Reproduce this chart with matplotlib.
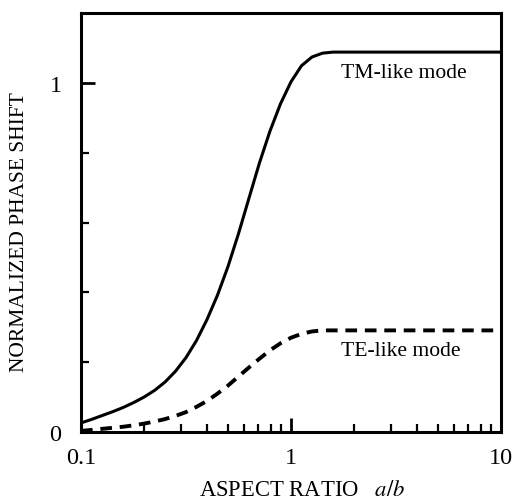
import matplotlib
matplotlib.use("Agg")
import matplotlib.pyplot as plt
from matplotlib.ticker import FixedLocator, NullFormatter, FixedFormatter

plt.rcParams['font.family'] = ['Liberation Serif', 'DejaVu Serif']
plt.rcParams['mathtext.fontset'] = 'stix'

# TM-like mode (solid)
tm_x = [0.1, 0.1122, 0.1259, 0.1413, 0.1585, 0.1778, 0.1995, 0.2239, 0.2512, 0.2818,
        0.3162, 0.3548, 0.3981, 0.4467, 0.5012, 0.5623, 0.6310, 0.7079, 0.7943,
        0.8913, 1.0, 1.122, 1.259, 1.413, 1.585, 1.778, 10.0]
tm_y = [0.026, 0.036, 0.047, 0.058, 0.070, 0.084, 0.100, 0.119, 0.143, 0.174,
        0.213, 0.262, 0.322, 0.392, 0.474, 0.568, 0.670, 0.771, 0.862,
        0.940, 1.003, 1.049, 1.074, 1.085, 1.088, 1.088, 1.088]

# TE-like mode (dashed)
te_x = [0.1, 0.1122, 0.1259, 0.1413, 0.1585, 0.1778, 0.1995, 0.2239, 0.2512, 0.2818,
        0.3162, 0.3548, 0.3981, 0.4467, 0.5012, 0.5623, 0.6310, 0.7079, 0.7943,
        0.8913, 1.0, 1.122, 1.259, 1.413, 1.585, 10.0]
te_y = [0.003, 0.006, 0.009, 0.012, 0.015, 0.019, 0.024, 0.030, 0.037, 0.046,
        0.057, 0.072, 0.089, 0.110, 0.133, 0.159, 0.185, 0.210, 0.234,
        0.254, 0.270, 0.281, 0.288, 0.291, 0.291, 0.291]

x_major = [0.1, 1, 10]
x_major_labels = ["0.1", "1", "10"]
x_minor = [m * d for d in (0.1, 1) for m in range(2, 10)]
y_major = [0, 1]
y_major_labels = ["0", "1"]
y_minor = [0.2, 0.4, 0.6, 0.8]

fig = plt.figure(figsize=(5.15, 5.02), dpi=100)
ax = fig.add_axes([81/515, 1 - 433/502, 420/515, 419/502])

ax.plot(tm_x, tm_y, color='black', lw=2.2, solid_capstyle='butt', solid_joinstyle='round')
ax.plot(te_x, te_y, color='black', lw=2.8, linestyle=(0, (3, 2)), dash_capstyle='butt')

ax.set_xscale('log')
ax.set_xlim(0.1, 10)
ax.set_ylim(0, 1.2)

ax.xaxis.set_major_locator(FixedLocator(x_major))
ax.xaxis.set_major_formatter(FixedFormatter(x_major_labels))
ax.xaxis.set_minor_locator(FixedLocator(x_minor))
ax.xaxis.set_minor_formatter(NullFormatter())
ax.yaxis.set_major_locator(FixedLocator(y_major))
ax.yaxis.set_major_formatter(FixedFormatter(y_major_labels))
ax.yaxis.set_minor_locator(FixedLocator(y_minor))

ax.tick_params(which='major', direction='in', length=10, width=2, labelsize=17.5)
ax.tick_params(axis='x', which='major', pad=11)
ax.tick_params(axis='y', which='major', pad=14)
ax.tick_params(which='minor', direction='in', length=6, width=1.6)

for s in ax.spines.values():
    s.set_linewidth(2.2)

ax.set_xlabel("ASPECT RATIO   $\\mathit{a/b}$", fontsize=16.3)
ax.xaxis.set_label_coords(0.527, -0.112)
ax.set_ylabel("NORMALIZED PHASE SHIFT", fontsize=15.5)
ax.yaxis.set_label_coords(-0.124, 0.48)

ax.text(3.45, 1.031, "TM-like mode", fontsize=15.6, ha='center', va='center')
ax.text(3.33, 0.233, "TE-like mode", fontsize=15.6, ha='center', va='center')

fig.savefig("out.png", dpi=100)
